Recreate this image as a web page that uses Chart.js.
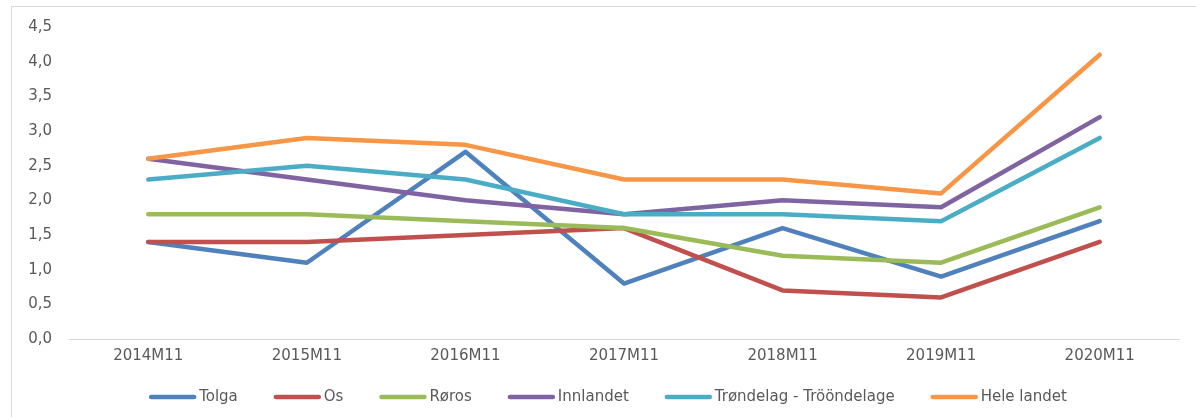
<!DOCTYPE html>
<html>
<head>
<meta charset="utf-8">
<script src="https://cdn.jsdelivr.net/npm/chart.js@4"></script>
<style>
  html, body { margin: 0; padding: 0; background: #fff; }
  #wrap { position: relative; width: 1196px; height: 417px; overflow: hidden; }
  #frame { position: absolute; left: 11px; top: 6px; width: 1300px; height: 500px;
           border-top: 1px solid #d9d9d9; border-left: 1px solid #d9d9d9; }
  #chart { position: absolute; left: 0; top: 0; }
</style>
</head>
<body>
<div id="wrap">
  <div id="frame"></div>
  <canvas id="chart" width="1196" height="417"></canvas>
</div>
<script>
// categories and series
var years = ["2014M11", "2015M11", "2016M11", "2017M11", "2018M11", "2019M11", "2020M11"];
var tolga = [1.4, 1.1, 2.7, 0.8, 1.6, 0.9, 1.7];
var os = [1.4, 1.4, 1.5, 1.6, 0.7, 0.6, 1.4];
var roros = [1.8, 1.8, 1.7, 1.6, 1.2, 1.1, 1.9];
var innlandet = [2.6, 2.3, 2.0, 1.8, 2.0, 1.9, 3.2];
var trondelag = [2.3, 2.5, 2.3, 1.8, 1.8, 1.7, 2.9];
var heleLandet = [2.6, 2.9, 2.8, 2.3, 2.3, 2.1, 4.1];

var seriesNames = ["Tolga", "Os", "Røros", "Innlandet", "Trøndelag - Trööndelage", "Hele landet"];
var seriesData = [tolga, os, roros, innlandet, trondelag, heleLandet];
var colors = ["#4f81bd", "#c0504d", "#9bbb59", "#8064a2", "#4bacc6", "#f79646"];

var textColor = "#595959";
var font = { family: "'DejaVu Sans', sans-serif", size: 15 };

var datasets = seriesNames.map(function (name, i) {
  return {
    label: name,
    data: seriesData[i],
    borderColor: colors[i],
    backgroundColor: colors[i],
    borderWidth: 4.5,
    borderJoinStyle: 'round',
    borderCapStyle: 'round',
    pointRadius: 0,
    tension: 0,
    // later series drawn on top, like the original
    order: seriesNames.length - i
  };
});

// legend drawn by hand so it can sit where Excel put it
var lineLegend = {
  id: 'lineLegend',
  afterDraw: function (chart) {
    var ctx = chart.ctx;
    var lineLen = 47, gap = 3, spacing = 36, y = 397;
    ctx.save();
    ctx.font = font.size + "px " + font.family;
    var widths = chart.data.datasets.map(function (ds) {
      return lineLen + gap + ctx.measureText(ds.label).width;
    });
    var total = widths.reduce(function (a, b) { return a + b; }, 0) + spacing * (widths.length - 1);
    var x = 608 - total / 2;
    chart.data.datasets.forEach(function (ds, i) {
      ctx.strokeStyle = ds.borderColor;
      ctx.lineWidth = 4.5;
      ctx.lineCap = 'round';
      ctx.beginPath();
      ctx.moveTo(x + 2, y);
      ctx.lineTo(x + lineLen - 2, y);
      ctx.stroke();
      ctx.fillStyle = textColor;
      ctx.textAlign = 'left';
      ctx.textBaseline = 'middle';
      ctx.fillText(ds.label, x + lineLen + gap, y);
      x += widths[i] + spacing;
    });
    ctx.restore();
  }
};

new Chart(document.getElementById("chart"), {
  type: 'line',
  data: { labels: years, datasets: datasets },
  plugins: [lineLegend],
  options: {
    responsive: false,
    animation: false,
    layout: { padding: { left: 0, right: 17, top: 27, bottom: 48 } },
    plugins: {
      tooltip: { enabled: false },
      legend: { display: false }
    },
    scales: {
      x: {
        offset: true,
        grid: { display: false, drawTicks: false },
        border: { display: true, color: "#d9d9d9", width: 1 },
        ticks: { font: font, color: textColor, padding: 8, maxRotation: 0 },
        afterFit: function (scale) { scale.height = 30; }
      },
      y: {
        min: 0,
        max: 4.5,
        grid: { display: false, drawTicks: false },
        border: { display: false },
        ticks: {
          stepSize: 0.5,
          font: font,
          color: textColor,
          padding: 17,
          callback: function (v) { return v.toFixed(1).replace('.', ','); }
        },
        afterFit: function (scale) { scale.width = 69; }
      }
    }
  }
});
</script>
</body>
</html>
